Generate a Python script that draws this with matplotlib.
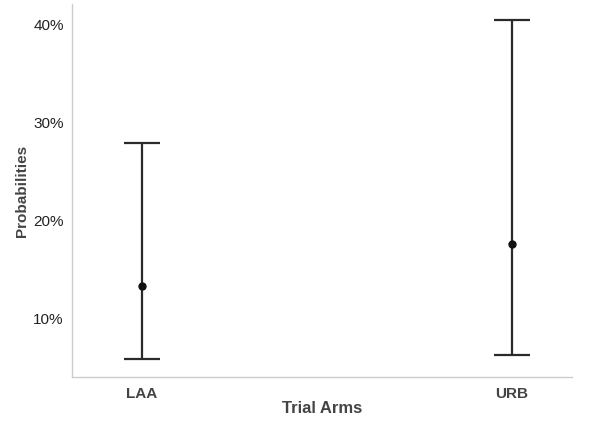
import matplotlib.pyplot as plt
from matplotlib.ticker import PercentFormatter

plt.rcParams['font.family'] = ['Liberation Sans', 'DejaVu Sans']

arms = ['LAA', 'URB']
est = [13.3, 17.6]
lower = [5.8, 6.3]
upper = [27.9, 40.5]

fig = plt.figure(figsize=(5.92, 4.26), dpi=100)
ax = fig.add_axes([0.1216, 0.115, 0.966 - 0.1216, 0.99 - 0.115])

x = list(range(len(arms)))
yerr = [[e - l for e, l in zip(est, lower)], [u - e for e, u in zip(est, upper)]]
ax.errorbar(x, est, yerr=yerr, fmt='o', color='#111111', ms=5,
            ecolor='#2a2a2a', elinewidth=1.6, capsize=13.3, capthick=1.6)

ax.set_xlim(-0.189, 1.162)
ax.set_ylim(4.0, 42.1)
ax.set_yticks([10, 20, 30, 40])
ax.yaxis.set_major_formatter(PercentFormatter(decimals=0))
ax.set_xticks(x)
ax.set_xticklabels(arms, fontweight='bold', color='#444444')
ax.tick_params(length=0, labelsize=11, pad=7)
ax.tick_params(axis='y', colors='#222222', pad=6)

for s in ['top', 'right']:
    ax.spines[s].set_visible(False)
for s in ['left', 'bottom']:
    ax.spines[s].set_color('#cccccc')
    ax.spines[s].set_linewidth(1)

ax.set_xlabel('Trial Arms', fontsize=12, fontweight='bold', color='#444444', labelpad=0)
ax.set_ylabel('Probabilities', fontsize=11, fontweight='bold', color='#444444', labelpad=3)

fig.savefig('out.png', dpi=100)
